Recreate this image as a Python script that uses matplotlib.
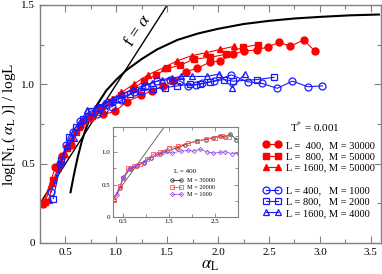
import matplotlib

matplotlib.use("Agg")
from matplotlib import pyplot
from matplotlib.ticker import MultipleLocator, FixedLocator

pyplot.rcParams["font.family"] = ["Liberation Serif", "DejaVu Serif"]
pyplot.rcParams["mathtext.fontset"] = "stix"

# theoretical curves
diag_x = [0.25, 1.5]
curve_a = [0.55, 0.58, 0.62, 0.66, 0.70, 0.75, 0.80, 0.90, 1.00, 1.10, 1.25,
           1.40, 1.60, 1.80, 2.00, 2.25, 2.50, 2.75, 3.00, 3.30, 3.58]
curve_f = [0.32, 0.42, 0.54, 0.64, 0.72, 0.80, 0.86, 0.96, 1.03, 1.09, 1.16,
           1.22, 1.28, 1.32, 1.35, 1.38, 1.40, 1.415, 1.425, 1.435, 1.44]

# T* = 0.001, large M (red)
r400_x = [0.28, 0.40, 0.47, 0.55, 0.64, 0.74, 0.87, 0.99, 1.10, 1.24, 1.35, 1.46,
          1.56, 1.68, 1.79, 1.92, 2.02, 2.15, 2.25, 2.38, 2.49, 2.60, 2.71, 2.84, 2.95]
r400_y = [0.245, 0.477, 0.55, 0.62, 0.74, 0.79, 0.81, 0.83, 0.89, 0.93, 0.96, 0.99,
          1.02, 1.08, 1.10, 1.14, 1.147, 1.19, 1.21, 1.216, 1.237, 1.265, 1.24, 1.28, 1.21]
r800_x = [0.30, 0.38, 0.45, 0.52, 0.60, 0.68, 0.76, 0.85, 0.95, 1.05, 1.16, 1.27,
          1.39, 1.50, 1.63, 1.76, 1.92, 2.08, 2.24, 2.39]
r800_y = [0.26, 0.40, 0.50, 0.60, 0.70, 0.77, 0.80, 0.85, 0.89, 0.93, 0.97, 1.02,
          1.06, 1.10, 1.12, 1.16, 1.17, 1.19, 1.233, 1.25]
r1600_x = [0.34, 0.37, 0.43, 0.50, 0.56, 0.63, 0.70, 0.78, 0.87, 0.96, 1.05, 1.17,
           1.31, 1.465, 1.60, 1.74, 1.885, 2.02, 2.16]
r1600_y = [0.27, 0.38, 0.47, 0.56, 0.66, 0.73, 0.79, 0.83, 0.87, 0.91, 0.95, 1.00,
           1.06, 1.105, 1.149, 1.18, 1.20, 1.22, 1.24]

# small M (blue)
b400_x = [0.36, 0.45, 0.51, 0.57, 0.64, 0.72, 0.81, 0.88, 0.96, 1.05, 1.17, 1.28, 1.40,
          1.53, 1.63, 1.70, 1.78, 1.84, 1.96, 2.13, 2.29, 2.43, 2.58, 2.73, 2.88, 3.025]
b400_y = [0.32, 0.50, 0.62, 0.70, 0.77, 0.80, 0.81, 0.84, 0.86, 0.90, 0.95, 0.99, 1.02,
          1.03, 1.02, 0.99, 0.996, 1.006, 1.02, 1.06, 1.016, 1.006, 0.975, 1.02, 0.985, 0.99]
b800_x = [0.38, 0.46, 0.53, 0.60, 0.67, 0.75, 0.84, 0.93, 1.03, 1.13, 1.24, 1.36, 1.48,
          1.60, 1.72, 1.82, 1.92, 2.06, 2.15, 2.38, 2.55]
b800_y = [0.28, 0.52, 0.67, 0.73, 0.78, 0.83, 0.86, 0.89, 0.91, 0.94, 0.96, 0.97, 0.98,
          0.99, 1.00, 1.00, 1.016, 1.03, 1.02, 1.03, 1.044]
b1600_x = [0.45, 0.52, 0.58, 0.64, 0.71, 0.79, 0.88, 0.97, 1.06, 1.16, 1.26, 1.35, 1.45,
           1.55, 1.64, 1.74, 1.89, 2.01, 2.14, 2.26]
b1600_y = [0.50, 0.61, 0.66, 0.75, 0.84, 0.85, 0.88, 0.91, 0.94, 0.97, 0.99, 1.01, 1.03,
           1.04, 1.05, 1.05, 1.05, 1.065, 0.98, 1.065]

# inset, L = 400
i30000_x = [0.30, 0.43, 0.51, 0.65, 0.80, 0.95, 1.10, 1.30, 1.45, 1.67, 1.85, 2.10,
            2.30, 2.45, 2.61, 2.72, 2.83, 2.96]
i30000_y = [0.26, 0.45, 0.60, 0.74, 0.79, 0.84, 0.92, 0.98, 1.02, 1.07, 1.12, 1.18,
            1.20, 1.23, 1.26, 1.24, 1.28, 1.20]
i20000_x = [0.30, 0.43, 0.51, 0.62, 0.74, 0.88, 1.02, 1.16, 1.30, 1.50, 1.70, 1.90,
            2.10, 2.30, 2.50, 2.65, 2.80]
i20000_y = [0.26, 0.47, 0.60, 0.76, 0.79, 0.82, 0.90, 0.97, 1.00, 1.07, 1.10, 1.14,
            1.17, 1.21, 1.23, 1.26, 1.24]
i1000_x = [0.38, 0.51, 0.65, 0.80, 0.95, 1.10, 1.25, 1.38, 1.56, 1.75, 1.90, 2.03,
           2.17, 2.32, 2.46, 2.60, 2.72, 2.86, 3.00]
i1000_y = [0.33, 0.61, 0.76, 0.80, 0.85, 0.91, 0.97, 1.01, 0.99, 1.02, 1.03, 1.02,
           1.05, 1.01, 0.99, 1.00, 1.01, 0.98, 0.99]

SPINE = "#808080"

fig = pyplot.figure(figsize=(3.82, 2.74), dpi=100)
ax = fig.add_axes([40 / 382, 31 / 274, 341 / 382, 238 / 274])

ax.plot(diag_x, diag_x, color="black", lw=1.0)
ax.plot(curve_a, curve_f, color="black", lw=1.5)
ax.text(1.215, 1.34, r"f = $\alpha$", rotation=56, ha="center", va="center",
        rotation_mode="anchor", fontsize=12.5)

red_lines = []
for xs, ys, mk in [(r400_x, r400_y, "o"), (r800_x, r800_y, "s"), (r1600_x, r1600_y, "^")]:
    (ln,) = ax.plot(xs, ys, color="#ff0000", lw=0.8, marker=mk, ms=5, mec="#ff0000")
    red_lines.append(ln)
blue_lines = []
for xs, ys, mk in [(b400_x, b400_y, "o"), (b800_x, b800_y, "s"), (b1600_x, b1600_y, "^")]:
    (ln,) = ax.plot(xs, ys, color="#1a1aff", lw=0.8, marker=mk, ms=5, mfc="none",
                    mec="#1a1aff", mew=0.9)
    blue_lines.append(ln)

ax.set_xlim(0.25, 3.6)
ax.set_ylim(0, 1.5)
ax.xaxis.set_major_locator(FixedLocator([0.5, 1.0, 1.5, 2.0, 2.5, 3.0, 3.5]))
ax.xaxis.set_minor_locator(MultipleLocator(0.25))
ax.yaxis.set_major_locator(FixedLocator([0, 0.5, 1.0, 1.5]))
ax.yaxis.set_minor_locator(MultipleLocator(0.25))
ax.set_yticklabels(["0", "0.5", "1.0", "1.5"])
ax.tick_params(which="both", direction="in", top=True, right=True, colors=SPINE,
               labelcolor="black", labelsize=8, width=0.8)
ax.tick_params(which="major", length=5)
ax.tick_params(which="minor", length=3)
for s in ax.spines.values():
    s.set_color(SPINE)
    s.set_linewidth(1.0)

ax.set_xlabel(r"$\alpha_{\rm L}$", fontsize=12, labelpad=0)
ax.set_ylabel(r"log[N$_{\rm L}$( $\alpha_{\rm L}$ )] / logL", fontsize=11, labelpad=2)

ax.text(2.71, 0.73, r"T$^{*}$ = 0.001", fontsize=8, va="center")

leg1 = ax.legend(red_lines,
                 ["L =  400,  M = 30000", "L =  800,  M = 50000", "L = 1600, M = 50000"],
                 loc="upper left", bbox_to_anchor=(0.655, 0.43), frameon=False,
                 fontsize=7.5, numpoints=2, handlelength=1.7, handletextpad=0.5,
                 labelspacing=0.2, borderpad=0, borderaxespad=0)
ax.add_artist(leg1)
ax.legend(blue_lines,
          ["L = 400,   M = 1000", "L = 800,   M = 2000", "L = 1600, M = 4000"],
          loc="upper left", bbox_to_anchor=(0.655, 0.24), frameon=False,
          fontsize=7.5, numpoints=2, handlelength=1.7, handletextpad=0.5,
          labelspacing=0.2, borderpad=0, borderaxespad=0)

# inset
ins = fig.add_axes([112.7 / 382, 57.3 / 274, 125.6 / 382, 90 / 274])
ins.plot([0.28, 1.5], [0.28, 1.5], color="#555555", lw=0.6)
h1, = ins.plot(i30000_x, i30000_y, color="#333333", lw=0.6, marker="o", ms=2.5,
               mfc="none", mew=0.6)
h2, = ins.plot(i20000_x, i20000_y, color="#ff5555", lw=0.6, marker="s", ms=2.5,
               mfc="none", mew=0.6)
h3, = ins.plot(i1000_x, i1000_y, color="#9955ee", lw=0.6, marker="D", ms=2.2,
               mfc="none", mew=0.6)
ins.set_xlim(0.28, 3.0)
ins.set_ylim(0, 1.4)
ins.xaxis.set_major_locator(FixedLocator([0.5, 1.5, 2.5]))
ins.xaxis.set_minor_locator(FixedLocator([1.0, 2.0]))
ins.yaxis.set_major_locator(FixedLocator([0, 0.5, 1.0]))
ins.yaxis.set_minor_locator(MultipleLocator(0.25))
ins.set_yticklabels(["0", "0.5", "1.0"])
ins.tick_params(which="both", direction="in", top=True, right=True, colors=SPINE,
                labelcolor="black", labelsize=5, width=0.6, pad=1.5)
ins.tick_params(which="major", length=3)
ins.tick_params(which="minor", length=2)
for s in ins.spines.values():
    s.set_color(SPINE)
    s.set_linewidth(0.8)
ins.text(0.49, 0.5, "L = 400", transform=ins.transAxes, fontsize=5, va="center")
ins.legend([h1, h2, h3], ["M = 30000", "M = 20000", "M = 1000"], loc="upper left",
           bbox_to_anchor=(0.46, 0.43), frameon=False, fontsize=4.5, numpoints=2,
           handlelength=2.0, handletextpad=0.6, labelspacing=0.25, borderpad=0,
           borderaxespad=0)

fig.savefig("out.png", dpi=100)
